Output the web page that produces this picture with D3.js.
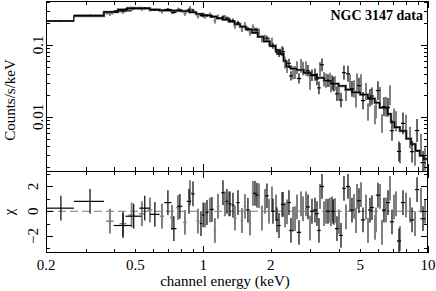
<!DOCTYPE html>
<html><head><meta charset="utf-8">
<script src="https://cdn.jsdelivr.net/npm/d3@7"></script>
<style>
html,body{margin:0;padding:0;background:#fff;}
svg{display:block;}
text{font-family:"Liberation Serif","Times New Roman",serif;fill:#000;}
</style></head><body>
<svg id="c" width="436" height="291"></svg>
<script>
// ---- model (step function: left bin edges, values in counts/s/keV)
const modelEdges=[0.2,0.266,0.362,0.418,0.46,0.52,0.58,0.64,0.72,0.80,0.87,0.93,1.0,1.08,1.15,1.22,1.30,1.38,1.46,1.55,1.65,1.75,1.86,1.98,2.10,2.20,2.28,2.34,2.45,2.60,2.80,3.00,3.20,3.45,3.70,4.00,4.30,4.60,5.00,5.40,5.80,6.10,6.40,6.60,6.85,7.10,7.50,8.00,8.40,8.80,9.20,9.60,10.0];
const modelVals=[0.215,0.253,0.287,0.31,0.325,0.322,0.31,0.303,0.30,0.295,0.285,0.27,0.258,0.248,0.235,0.225,0.212,0.195,0.18,0.165,0.148,0.13,0.112,0.097,0.085,0.075,0.06,0.050,0.047,0.045,0.041,0.038,0.035,0.032,0.029,0.027,0.024,0.022,0.0205,0.018,0.0158,0.0135,0.0134,0.011,0.0085,0.0072,0.0064,0.0050,0.0042,0.0034,0.0029,0.0026];

// ---- black dataset: channel energy (keV), half bin width (keV), residual chi, 1-sigma error (decades)
const blackE=[0.233,0.314,0.44,0.491,0.55,0.61,0.697,0.741,0.788,0.865,0.901,0.978,1.0,1.04,1.094,1.225,1.276,1.316,1.357,1.428,1.582,1.70,1.735,1.922,2.044,2.129,2.174,2.265,2.408,2.458,2.668,2.926,3.048,3.143,3.208,3.274,3.377,3.591,3.78,3.937,4.102,4.23,4.407,4.591,4.932,5.139,5.52,5.634,5.991,6.371,6.638,6.916,7.43,7.741,8.49,8.937,9.502];
const blackHW=[0.033,0.048,0.04,0.04,0.03,0.03,0.025,0.02,0.02,0.02,0.015,0.012,0.012,0.015,0.02,0.02,0.02,0.02,0.02,0.025,0.03,0.03,0.03,0.035,0.04,0.04,0.04,0.045,0.045,0.045,0.06,0.06,0.06,0.06,0.06,0.06,0.07,0.08,0.08,0.08,0.08,0.08,0.09,0.1,0.1,0.11,0.11,0.11,0.13,0.13,0.14,0.15,0.16,0.16,0.18,0.2,0.25];
const blackChi=[0.25,0.8,-1.15,-0.4,0.25,-0.25,0.7,-1.4,0.4,0.8,1.4,-1.0,-0.3,-0.1,0.15,1.5,0.8,0.6,0.5,0.7,0.1,1.45,1.3,1.25,0.0,-0.7,-1.15,0.55,0.7,-1.55,-1.7,0.35,0.0,0.1,-0.2,-1.55,2.0,0.0,0.0,-1.4,-1.95,1.85,2.0,0.1,0.85,-0.7,0.1,0.3,1.3,0.1,0.7,-0.85,-2.4,0.7,-0.7,1.75,-0.6];
const blackErr=[0.012,0.012,0.015,0.015,0.016,0.016,0.018,0.018,0.02,0.02,0.02,0.02,0.022,0.022,0.022,0.025,0.025,0.025,0.027,0.027,0.03,0.03,0.03,0.035,0.04,0.04,0.045,0.06,0.065,0.065,0.07,0.08,0.08,0.085,0.085,0.09,0.09,0.09,0.095,0.1,0.1,0.1,0.11,0.11,0.11,0.12,0.12,0.12,0.13,0.13,0.13,0.14,0.14,0.15,0.15,0.16,0.16];

// ---- gray dataset
const grayE=[0.385,0.44,0.481,0.534,0.58,0.656,0.727,0.773,0.83,0.874,0.948,1.019,1.072,1.128,1.164,1.25,1.302,1.385,1.488,1.534,1.615,1.665,1.771,1.826,1.883,1.962,2.023,2.108,2.242,2.312,2.36,2.509,2.561,2.614,2.723,2.78,2.867,2.987,3.308,3.447,3.518,3.665,3.703,3.741,3.818,3.858,4.019,4.318,4.498,4.686,4.783,4.832,5.035,5.298,5.408,5.81,5.869,6.115,6.242,6.503,6.776,7.059,7.205,7.506,7.982,8.316,8.755,9.309,9.698];
const grayHW=[0.015,0.015,0.015,0.015,0.015,0.015,0.015,0.015,0.015,0.015,0.015,0.015,0.015,0.015,0.015,0.02,0.02,0.02,0.02,0.02,0.02,0.02,0.02,0.02,0.02,0.025,0.025,0.025,0.025,0.025,0.025,0.025,0.025,0.025,0.03,0.03,0.03,0.03,0.035,0.035,0.035,0.035,0.035,0.035,0.035,0.035,0.04,0.045,0.045,0.05,0.05,0.05,0.05,0.055,0.055,0.06,0.06,0.065,0.065,0.07,0.07,0.075,0.075,0.08,0.085,0.09,0.095,0.1,0.1];
const grayChi=[-0.8,-1.0,-0.3,-0.2,0.1,-0.4,-0.5,0.3,-0.9,1.5,-0.8,-0.3,0.1,-1.55,0.4,0.6,0.6,-0.55,-0.75,0.4,-0.95,1.45,1.25,-0.55,0.8,0.0,1.0,0.35,0.55,-0.3,-0.05,-0.65,-0.6,0.35,0.6,0.2,0.6,-1.35,1.2,-0.2,0.0,0.1,-0.2,0.2,-0.1,0.05,-0.85,-0.45,0.95,0.4,-0.75,1.2,1.35,0.35,-1.55,-1.3,-0.7,1.2,-1.7,0.1,1.85,0.35,0.6,-2.2,0.5,0.1,-1.0,0.9,0.0];
const grayErr=[0.03,0.03,0.03,0.03,0.03,0.032,0.032,0.032,0.034,0.034,0.035,0.036,0.037,0.038,0.038,0.04,0.04,0.042,0.044,0.045,0.046,0.047,0.05,0.05,0.052,0.055,0.058,0.06,0.07,0.08,0.085,0.09,0.09,0.09,0.095,0.095,0.1,0.1,0.1,0.1,0.1,0.1,0.1,0.1,0.1,0.1,0.11,0.11,0.11,0.12,0.12,0.12,0.12,0.12,0.12,0.13,0.13,0.13,0.13,0.14,0.14,0.14,0.14,0.14,0.15,0.15,0.15,0.16,0.16];

// ---- ticks and labels
const xLabelVals=[0.2,0.5,1,2,5,10];
const xLabelText=["0.2","0.5","1","2","5","10"];
const xMajor=[1,10];
const xMinor=[0.3,0.4,0.5,0.6,0.7,0.8,0.9,2,3,4,5,6,7,8,9];
const yMajor=[0.01,0.1];
const yMinor=[0.002,0.003,0.004,0.005,0.006,0.007,0.008,0.009,0.02,0.03,0.04,0.05,0.06,0.07,0.08,0.09,0.2,0.3,0.4];
const yLabelVals=[0.01,0.1];
const yLabelText=["0.01","0.1"];
const rMajor=[-2,0,2];
const rMinor=[-3,-1,1,3];
const rLabelText=["\u22122","0","2"];

const L=46,R=428,T=1,M=171,B=253;
const x=d3.scaleLog().domain([0.2,10]).range([L,R]);
const yTop=d3.scaleLog().domain([0.001778,0.4083]).range([M,T]);
const yRes=d3.scaleLinear().domain([-3.37,3.25]).range([B,M]);

function modelAt(e){let i=d3.bisectRight(modelEdges,e)-1;i=Math.max(0,Math.min(modelVals.length-1,i));return modelVals[i];}

const svg=d3.select("#c");
const defs=svg.append("defs");
defs.append("clipPath").attr("id","ct").append("rect").attr("x",L).attr("y",T).attr("width",R-L).attr("height",M-T);
defs.append("clipPath").attr("id","cr").append("rect").attr("x",L).attr("y",M).attr("width",R-L).attr("height",B-M);

function makeData(E,HW,C,S){return E.map((e,i)=>({e,hw:HW[i],chi:C[i],s:S[i],m:modelAt(e)}));}
const black=makeData(blackE,blackHW,blackChi,blackErr);
const gray=makeData(grayE,grayHW,grayChi,grayErr);

const gTop=svg.append("g").attr("clip-path","url(#ct)");
const gRes=svg.append("g").attr("clip-path","url(#cr)");

function drawTop(data,col,wv,wh){
  const g=gTop.append("g").attr("stroke",col);
  g.selectAll("line.v").data(data).join("line").attr("class","v")
   .attr("x1",d=>x(d.e)).attr("x2",d=>x(d.e))
   .attr("y1",d=>yTop(d.m*Math.pow(10,(d.chi-1)*d.s))).attr("y2",d=>yTop(d.m*Math.pow(10,(d.chi+1)*d.s)))
   .attr("stroke-width",wv);
  g.selectAll("line.h").data(data).join("line").attr("class","h")
   .attr("x1",d=>x(d.e-d.hw)).attr("x2",d=>x(d.e+d.hw))
   .attr("y1",d=>yTop(d.m*Math.pow(10,d.chi*d.s))).attr("y2",d=>yTop(d.m*Math.pow(10,d.chi*d.s)))
   .attr("stroke-width",wh);
}
function drawRes(data,col,wv,wh){
  const g=gRes.append("g").attr("stroke",col);
  g.selectAll("line.v").data(data).join("line").attr("class","v")
   .attr("x1",d=>x(d.e)).attr("x2",d=>x(d.e))
   .attr("y1",d=>yRes(d.chi-1)).attr("y2",d=>yRes(d.chi+1)).attr("stroke-width",wv);
  g.selectAll("line.h").data(data).join("line").attr("class","h")
   .attr("x1",d=>x(d.e-d.hw)).attr("x2",d=>x(d.e+d.hw))
   .attr("y1",d=>yRes(d.chi)).attr("y2",d=>yRes(d.chi)).attr("stroke-width",wh);
}

const modelPts=modelEdges.map((e,i)=>[e,modelVals[Math.min(i,modelVals.length-1)]]);
const line=d3.line().x(d=>x(d[0])).y(d=>yTop(d[1])).curve(d3.curveStepAfter);

// residual zero line
gRes.append("line").attr("x1",L).attr("x2",R).attr("y1",yRes(0)).attr("y2",yRes(0))
  .attr("stroke","#777").attr("stroke-width",1).attr("stroke-dasharray","8,4");

drawTop(gray,"#808080",2,1.5);
gTop.append("path").attr("d",line(modelPts.filter(d=>d[0]>=0.266))).attr("fill","none").attr("stroke","#777").attr("stroke-width",2.6);
gTop.append("path").attr("d",line(modelPts)).attr("fill","none").attr("stroke","#000").attr("stroke-width",1.3);
drawTop(black,"#000",1.2,1.2);
drawRes(gray,"#808080",2,1.5);
drawRes(black,"#000",1.2,1.2);

// frame and ticks
const ax=svg.append("g").attr("stroke","#000").attr("stroke-width",1);
ax.append("rect").attr("x",L+0.5).attr("y",T+0.5).attr("width",R-L-1).attr("height",B-T-1).attr("fill","none");
ax.append("line").attr("x1",L).attr("x2",R).attr("y1",M+0.5).attr("y2",M+0.5);
function xt(vals,len){
  vals.forEach(v=>{
    const px=Math.round(x(v))+0.5;
    ax.append("line").attr("x1",px).attr("x2",px).attr("y1",T).attr("y2",T+len);
    ax.append("line").attr("x1",px).attr("x2",px).attr("y1",M-len).attr("y2",M+len);
    ax.append("line").attr("x1",px).attr("x2",px).attr("y1",B).attr("y2",B-len);
  });
}
xt(xMajor,7);xt(xMinor,4);
function yt(vals,scale,len){
  vals.forEach(v=>{
    const py=Math.round(scale(v))+0.5;
    ax.append("line").attr("x1",L).attr("x2",L+len).attr("y1",py).attr("y2",py);
    ax.append("line").attr("x1",R).attr("x2",R-len).attr("y1",py).attr("y2",py);
  });
}
yt(yMajor,yTop,7);yt(yMinor,yTop,4);
yt(rMajor,yRes,7);yt(rMinor,yRes,4);

// labels
const fs=15;
xLabelVals.forEach((v,i)=>{
  svg.append("text").attr("x",x(v)).attr("y",270).attr("text-anchor","middle").attr("font-size",fs).text(xLabelText[i]);
});
svg.append("text").attr("x",225).attr("y",286).attr("text-anchor","middle").attr("font-size",fs).text("channel energy (keV)");
yLabelVals.forEach((v,i)=>{
  svg.append("text").attr("transform",`translate(43,${yTop(v)}) rotate(-90)`).attr("text-anchor","middle").attr("font-size",fs).text(yLabelText[i]);
});
rMajor.forEach((v,i)=>{
  svg.append("text").attr("transform",`translate(38,${yRes(v)}) rotate(-90)`).attr("text-anchor","middle").attr("font-size",fs).text(rLabelText[i]);
});
svg.append("text").attr("transform",`translate(15,100) rotate(-90)`).attr("text-anchor","middle").attr("font-size",fs).text("Counts/s/keV");
svg.append("text").attr("transform",`translate(14,212) rotate(-90)`).attr("text-anchor","middle").attr("font-size",fs).text("\u03c7");
svg.append("text").attr("x",423).attr("y",20).attr("text-anchor","end").attr("font-size",14).attr("font-weight","bold").text("NGC 3147 data");
</script>
</body></html>
